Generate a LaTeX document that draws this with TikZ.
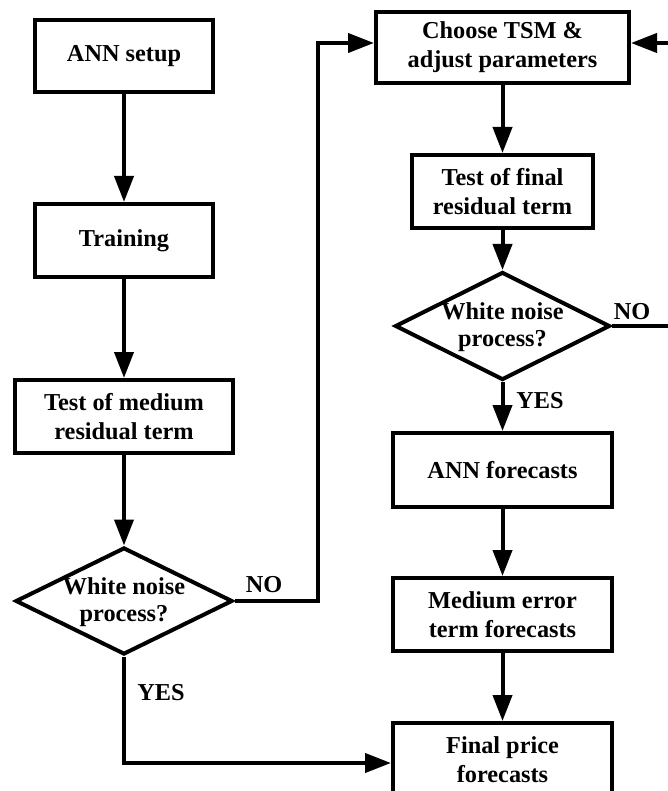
\documentclass[tikz,border=0pt]{standalone}
\usepackage{fontspec}
\setmainfont{Liberation Serif}
\usetikzlibrary{arrows.meta,shapes.geometric}
\tikzset{
  box/.style={draw, line width=4pt, rectangle, inner sep=0pt, align=center,
    font=\bfseries\fontsize{24.3}{29}\selectfont},
  dia/.style={draw, line width=4pt, diamond, inner sep=0pt},
  txt/.style={inner sep=0pt, align=center, font=\bfseries\fontsize{24.3}{27}\selectfont},
  lbl/.style={inner sep=0pt, font=\bfseries\fontsize{24.3}{28}\selectfont},
  conn/.style={line width=4pt},
  arr/.style={conn, -{Triangle[length=26pt,width=19pt]}}
}
\begin{document}
\begin{tikzpicture}[x=1pt,y=-1pt]
\clip (0,0) rectangle (668,791);
\fill[white] (0,0) rectangle (668,791);
% left column
\node[box, minimum width=178pt, minimum height=72pt] (b1) at (124,56) {ANN setup};
\node[box, minimum width=178pt, minimum height=73pt] (b2) at (124,240.5) {Training};
\node[box, minimum width=218pt, minimum height=73pt] (b3) at (124,416.5) {Test of medium\\residual term};
\node[dia, minimum width=217pt, minimum height=107pt] (d1) at (124,601) {};
\node[txt] (d1t) at (124,602) {White noise\\process?};
% right column
\node[box, minimum width=253pt, minimum height=71pt] (c1) at (502.5,47.5) {Choose TSM \&\\adjust parameters};
\node[box, minimum width=181pt, minimum height=73pt] (c2) at (502.5,191.5) {Test of final\\residual term};
\node[dia, minimum width=215pt, minimum height=108pt] (d2) at (502.5,326) {};
\node[txt] (d2t) at (502.5,327) {White noise\\process?};
\node[box, minimum width=219pt, minimum height=74pt] (c3) at (502.5,470) {ANN forecasts};
\node[box, minimum width=219pt, minimum height=73pt] (c4) at (502.5,614.5) {Medium error\\term forecasts};
\node[box, minimum width=219pt, minimum height=73pt] (c5) at (502.5,759.5) {Final price\\forecasts};
% labels
\node[lbl] (no1) at (264,585) {NO};
\node[lbl] (yes1) at (161,693) {YES};
\node[lbl] (no2) at (632,312) {NO};
\node[lbl] (yes2) at (540,401) {YES};
% coordinates
\coordinate (k1) at (318,601);
\coordinate (k2) at (318,43);
\coordinate (k3) at (124,763);
\coordinate (k4) at (700,326);
\coordinate (k5) at (700,43);
% connectors
\draw[arr] (b1) -- (b2);
\draw[arr] (b2) -- (b3);
\draw[arr] (b3) -- (d1);
\draw[arr] (d1.east) -- (k1) -- (k2) -- (k2 -| c1.west);
\draw[arr] (d1.south) -- (k3) -- (k3 -| c5.west);
\draw[arr] (c1) -- (c2);
\draw[arr] (c2) -- (d2);
\draw[arr] (d2) -- (c3);
\draw[arr] (c3) -- (c4);
\draw[arr] (c4) -- (c5);
\draw[conn] (d2.east) -- (k4) -- (k5);
\draw[arr] (k5) -- (k5 -| c1.east);
\end{tikzpicture}
\end{document}
